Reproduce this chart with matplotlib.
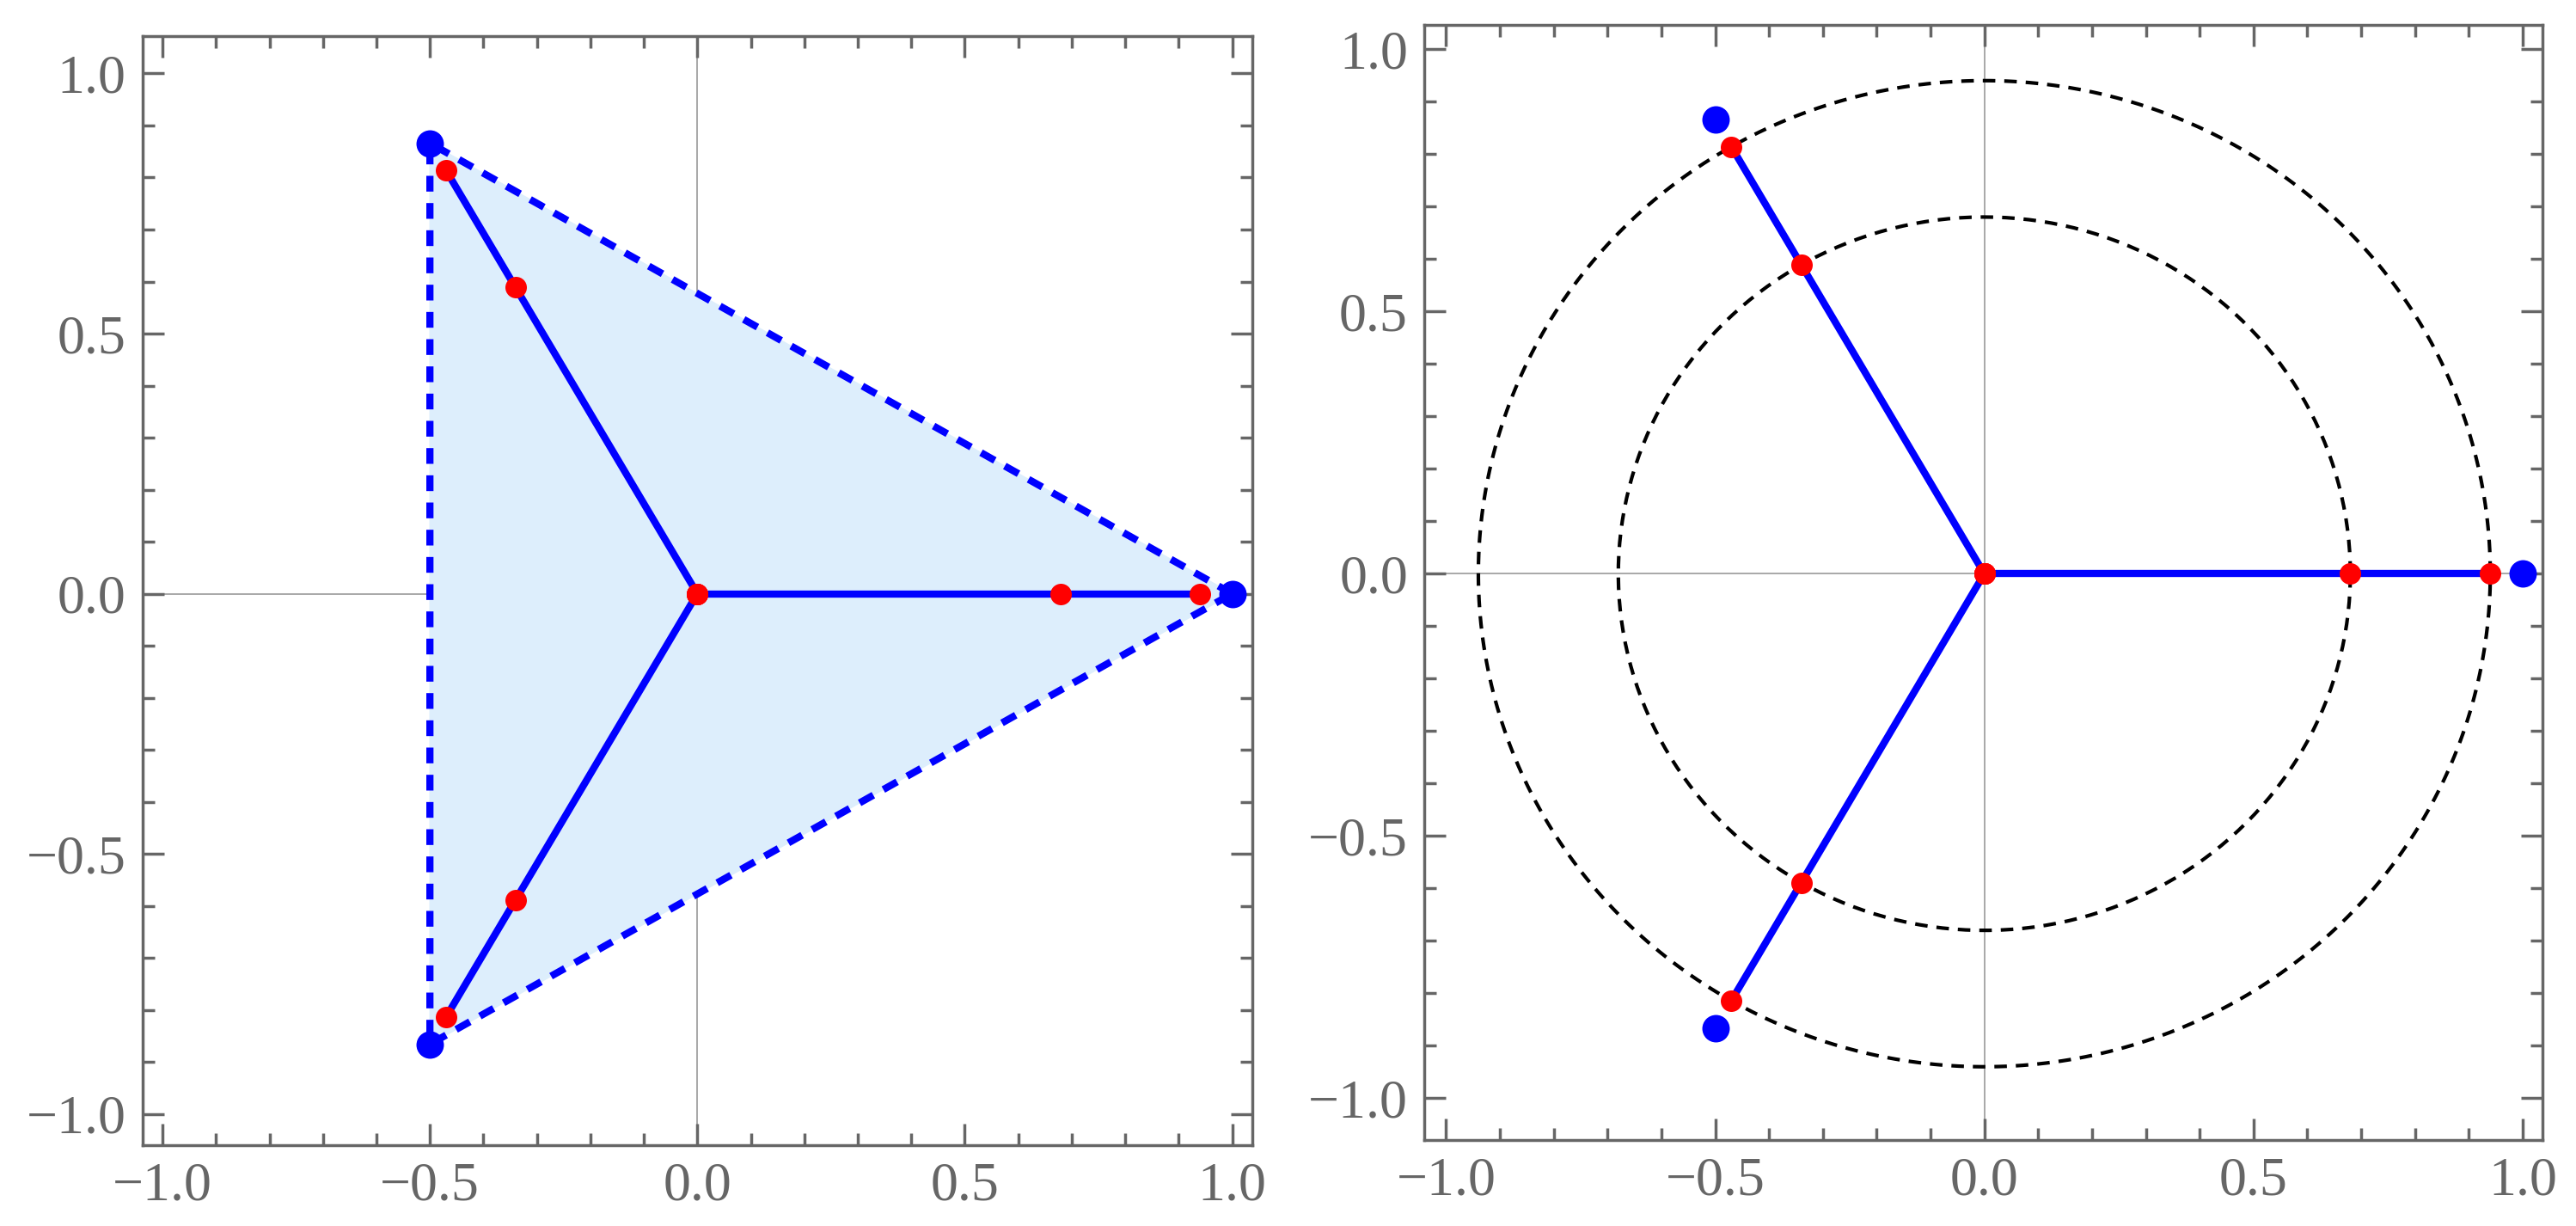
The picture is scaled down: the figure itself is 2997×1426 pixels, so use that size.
import numpy as np
import matplotlib
matplotlib.use("Agg")
import matplotlib.pyplot as plt
from matplotlib.ticker import MultipleLocator

angles_deg = [0, 120, 240]
vertex_r = 1.0
red_radii = [0.0, 0.68, 0.94]

ang = np.deg2rad(angles_deg)
vx, vy = vertex_r*np.cos(ang), vertex_r*np.sin(ang)

fig = plt.figure(figsize=(29.97, 14.26), dpi=100)
axL = fig.add_axes([0.0554, 0.066, 0.4306, 0.9046])
axR = fig.add_axes([0.553, 0.070, 0.434, 0.910])
gray = '#666666'

def style(ax, xl, yl):
    ax.set_xlim(*xl); ax.set_ylim(*yl)
    ax.axhline(0, color='#999999', lw=1.2, zorder=0)
    ax.axvline(0, color='#999999', lw=1.2, zorder=0)
    ax.xaxis.set_major_locator(MultipleLocator(0.5))
    ax.yaxis.set_major_locator(MultipleLocator(0.5))
    ax.xaxis.set_minor_locator(MultipleLocator(0.1))
    ax.yaxis.set_minor_locator(MultipleLocator(0.1))
    ax.xaxis.set_major_formatter(lambda v, p: f"{v:.1f}".replace('-', '\u2212'))
    ax.yaxis.set_major_formatter(lambda v, p: f"{v:.1f}".replace('-', '\u2212'))
    ax.tick_params(which='both', direction='in', top=True, right=True, color=gray,
                   labelcolor=gray, labelsize=46, pad=14)
    ax.tick_params(which='major', length=18, width=2.5)
    ax.tick_params(which='minor', length=10, width=2.5)
    for t in ax.get_xticklabels() + ax.get_yticklabels():
        t.set_family('Liberation Serif')
    for s in ax.spines.values():
        s.set_color(gray); s.set_linewidth(2.5)

style(axL, (-1.037, 1.037), (-1.06, 1.072))
style(axR, (-1.04, 1.037), (-1.08, 1.047))

for ax in (axL, axR):
    for a in ang:
        ax.plot([0, red_radii[-1]*np.cos(a)], [0, red_radii[-1]*np.sin(a)],
                color='#0000FF', lw=6, solid_capstyle='round', zorder=2)
    ax.plot(vx, vy, 'o', color='#0000FF', ms=23, zorder=4, mec='none')
    for r in red_radii:
        ax.plot(r*np.cos(ang), r*np.sin(ang), 'o', color='#FF0000', ms=18, zorder=5, mec='none')

# left: triangle
axL.fill(vx, vy, color='#DDEEFC', zorder=1)
tx = np.append(vx, vx[0]); ty = np.append(vy, vy[0])
axL.plot(tx, ty, color='#0000FF', lw=6, ls=(0, (2.2, 1.6)), zorder=3)

# right: circles
t = np.linspace(0, 2*np.pi, 400)
for r in red_radii[1:]:
    axR.plot(r*np.cos(t), r*np.sin(t), color='black', lw=3, ls=(0, (3.5, 2.5)), zorder=1)

fig.savefig('out.png', dpi=100)
